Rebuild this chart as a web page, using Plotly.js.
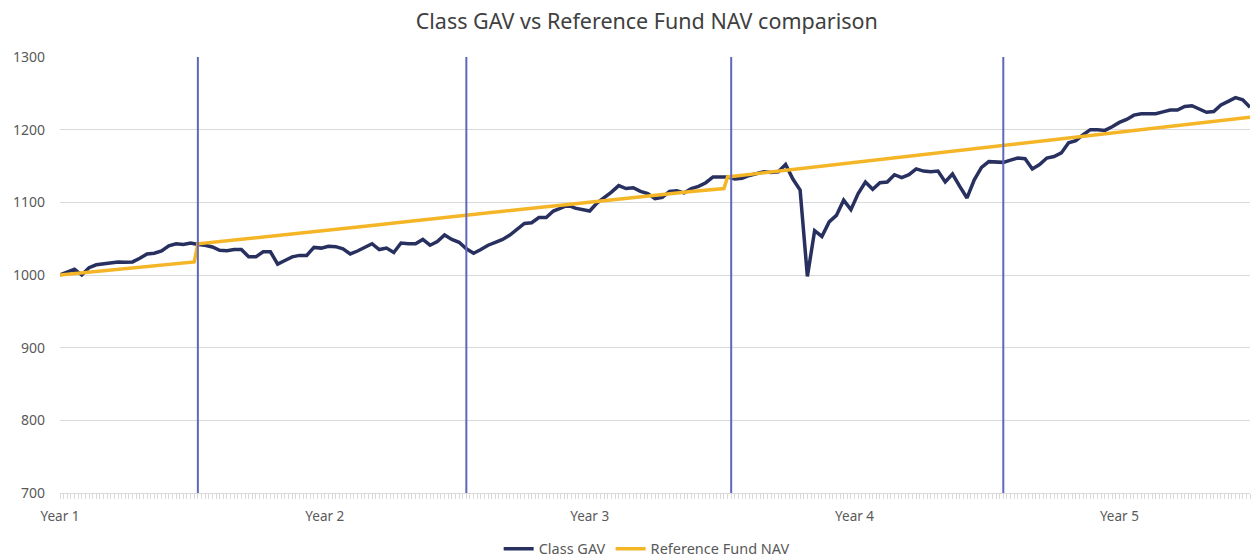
<!DOCTYPE html>
<html><head><meta charset="utf-8">
<script src="https://cdn.plot.ly/plotly-3.0.1.min.js"></script>
<style>html,body{margin:0;padding:0;background:#fff}#chart{width:1251px;height:560px}</style>
</head><body><div id="chart"></div>
<script>
// Category positions (periods) and labels
const yearLabels = ['Year 1', 'Year 2', 'Year 3', 'Year 4', 'Year 5'];
const yearStartIdx = [0, 73, 146, 219, 292];
const dividerIdx = [38, 112, 185, 260];
const lastIdx = 328;

// Class GAV, sampled every second period (0, 2, 4, ... 328)
const gavIdx = [
  0,2,4,6,8,10,12,14,16,18,
  20,22,24,26,28,30,32,34,36,38,
  40,42,44,46,48,50,52,54,56,58,
  60,62,64,66,68,70,72,74,76,78,
  80,82,84,86,88,90,92,94,96,98,
  100,102,104,106,108,110,112,114,116,118,
  120,122,124,126,128,130,132,134,136,138,
  140,142,144,146,148,150,152,154,156,158,
  160,162,164,166,168,170,172,174,176,178,
  180,182,184,186,188,190,192,194,196,198,
  200,202,204,206,208,210,212,214,216,218,
  220,222,224,226,228,230,232,234,236,238,
  240,242,244,246,248,250,252,254,256,258,
  260,262,264,266,268,270,272,274,276,278,
  280,282,284,286,288,290,292,294,296,298,
  300,302,304,306,308,310,312,314,316,318,
  320,322,324,326,328
];
const gavValues = [
  1000,1004,1008,1000,1010,1014,1015.5,1017,1018,1017.5,
  1018,1023,1029,1030,1033,1040,1043,1042,1044,1042,
  1041,1038.5,1034,1033.5,1035,1035,1025,1025,1032,1032,
  1015,1020,1025,1027,1027,1038,1037,1039.5,1039,1036,
  1029,1033,1038,1043,1035,1037,1031,1044,1043,1043,
  1049,1041,1046,1055,1049,1045,1036,1030,1035,1041,
  1045,1049,1055,1063,1071,1072,1079,1079,1088,1092,
  1096,1092,1090,1088,1099,1106,1114,1123,1119,1120,
  1115,1112,1105,1107,1115,1116,1113,1119,1122,1127,
  1135,1135,1135,1132,1133,1137,1139,1142,1141,1142,
  1152,1132,1117,998,1061,1053,1073,1082,1103,1090,
  1112,1128,1118,1127,1128,1138,1134,1138,1146,1143,
  1142,1143,1128,1139,1122,1106,1131,1148,1156,1156,
  1155,1158,1161,1160,1146,1152,1161,1163,1168,1182,
  1185,1193,1200,1200,1199,1204,1210,1214,1220,1222,
  1222,1222,1224.5,1227,1227,1232,1233,1228,1224,1225,
  1234,1239,1244,1241,1231
];

// Reference Fund NAV readings
const navIdx = [
  0,4,8,12,16,20,24,28,32,37,
  38,46,54,62,70,78,86,94,102,110,118,126,134,142,150,158,166,174,183,
  184,192,200,208,216,224,232,240,248,256,264,272,280,288,296,304,312,320,328
];
const navValues = [
  1000,1002,1004,1006,1008,1009.5,1011.5,1013.5,1015,1018,
  1043,1047,1051,1055.5,1060,1064,1068,1072.5,1077,1081,1085,1089.5,1094,1098,1102.5,1106.5,1111,1115,1119,
  1135,1139.5,1144,1149,1153.5,1158,1162.5,1167,1171.5,1176,1181,1185.5,1190,1194.5,1199,1203.5,1208,1212.5,1217
];

const FONT = 'Noto Sans, Open Sans, sans-serif';

const traces = [
  {
    x: gavIdx, y: gavValues, name: 'Class GAV', type: 'scatter', mode: 'lines',
    line: {color: '#27305f', width: 3.5}
  },
  {
    x: navIdx, y: navValues, name: 'Reference Fund NAV', type: 'scatter', mode: 'lines',
    line: {color: '#f4b526', width: 3.5}
  }
];

const shapes = dividerIdx.map(d => ({
  type: 'line', xref: 'x', yref: 'paper', x0: d, x1: d, y0: 0, y1: 1,
  line: {color: '#5f67bb', width: 2}, layer: 'above'
}));

const layout = {
  width: 1251, height: 560,
  margin: {l: 60, r: 1, t: 57, b: 67},
  paper_bgcolor: '#ffffff', plot_bgcolor: '#ffffff',
  font: {family: FONT, color: '#595959', size: 13},
  title: {
    text: 'Class GAV vs Reference Fund NAV comparison',
    x: 0.517, xanchor: 'center', xref: 'container',
    y: 0.962, yanchor: 'middle', yref: 'container',
    font: {family: FONT, size: 21.5, color: '#404040'}
  },
  showlegend: true,
  legend: {
    orientation: 'h', x: 0.493, xanchor: 'center', xref: 'paper',
    y: 0.02, yanchor: 'middle', yref: 'container',
    font: {family: FONT, size: 14.5, color: '#595959'},
    itemwidth: 30, traceorder: 'normal'
  },
  xaxis: {
    range: [0, lastIdx], type: 'linear', fixedrange: true,
    tickmode: 'array', tickvals: yearStartIdx, ticktext: yearLabels,
    ticks: 'outside', ticklen: 5, tickwidth: 1, tickcolor: '#d9d9d9',
    minor: {tickmode: 'linear', tick0: 0, dtick: 1, ticks: 'outside', ticklen: 5, tickwidth: 1, tickcolor: '#d9d9d9', showgrid: false},
    showgrid: false, zeroline: false,
    showline: true, linecolor: '#d9d9d9', linewidth: 1,
    tickfont: {family: FONT, size: 13.5, color: '#595959'},
    ticklabelstandoff: 6
  },
  yaxis: {
    range: [700, 1300], dtick: 100, tick0: 700, fixedrange: true,
    showgrid: true, gridcolor: '#d9d9d9', gridwidth: 1,
    zeroline: false, showline: false, ticks: '',
    tickfont: {family: FONT, size: 14, color: '#595959'},
    ticklabelstandoff: 14
  },
  shapes: shapes,
  hovermode: false
};

Plotly.newPlot('chart', traces, layout, {displayModeBar: false, staticPlot: true});
</script>
</body></html>
